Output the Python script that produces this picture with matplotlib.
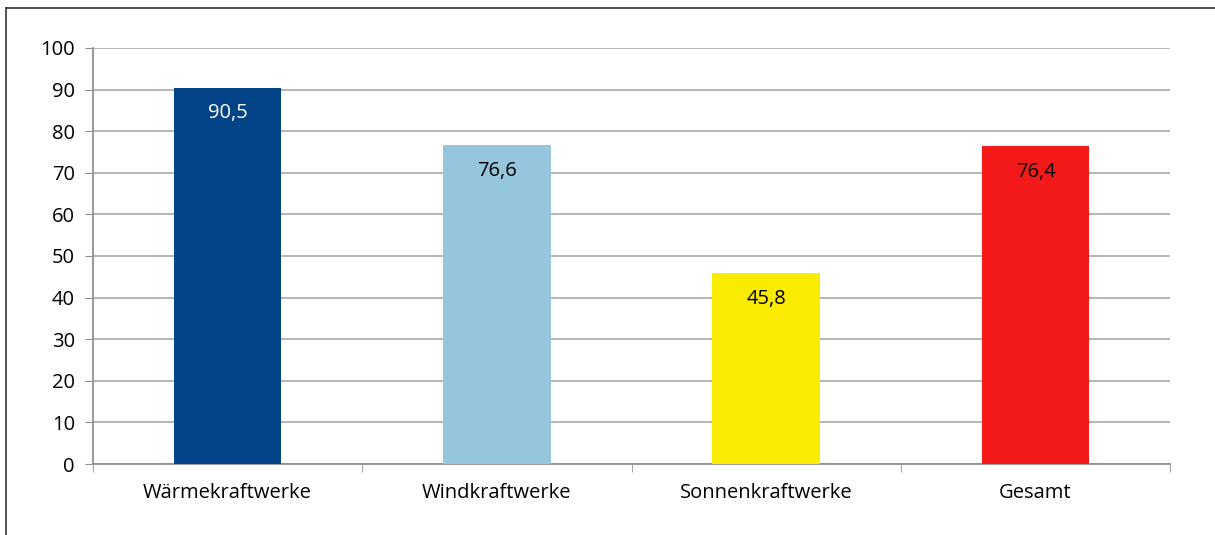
import matplotlib.pyplot as plt
from matplotlib.lines import Line2D

categories = ['Wärmekraftwerke', 'Windkraftwerke', 'Sonnenkraftwerke', 'Gesamt']
values = [90.5, 76.6, 45.8, 76.4]
value_labels = ['90,5', '76,6', '45,8', '76,4']
colors = ['#034488', '#95C6DE', '#FAEC00', '#F51A1A']
label_colors = ['white', 'black', 'black', 'black']

plt.rcParams['font.family'] = ['Open Sans', 'DejaVu Sans']

fig = plt.figure(figsize=(12.15, 5.35), dpi=100)
ax = fig.add_axes([0.0765, 0.1327, 0.8866, 0.7776])

x = range(len(categories))
ax.bar(x, values, width=0.40, color=colors, zorder=3)

for i, (v, lab) in enumerate(zip(values, value_labels)):
    ax.text(i, v - 6.2, lab, ha='center', va='center', fontsize=14.5,
            color=label_colors[i], zorder=4)

ax.set_xlim(-0.5, len(categories) - 0.5)
ax.set_ylim(0, 100)
ax.set_yticks(range(0, 101, 10))
ax.tick_params(axis='y', labelsize=14.5, length=6, color='#909090', pad=7)

ax.set_xticks(x)
ax.set_xticklabels(categories, fontsize=14.5)
ax.tick_params(axis='x', length=0, pad=14)
ax.set_xticks([i - 0.5 for i in range(len(categories) + 1)], minor=True)
ax.tick_params(axis='x', which='minor', length=6, color='#909090')

ax.grid(axis='y', color='#B0B0B0', linewidth=1.3, zorder=0)
for s in ['top', 'right']:
    ax.spines[s].set_visible(False)
for s in ['left', 'bottom']:
    ax.spines[s].set_color('#909090')
    ax.spines[s].set_linewidth(1.3)

# outer frame of the source page
fig.add_artist(Line2D([6 / 1215, 6 / 1215], [0, 1 - 8 / 535], color='#333333', lw=1.2))
fig.add_artist(Line2D([6 / 1215, 1], [1 - 8 / 535, 1 - 8 / 535], color='#333333', lw=1.2))

fig.savefig('out.png', dpi=100)
